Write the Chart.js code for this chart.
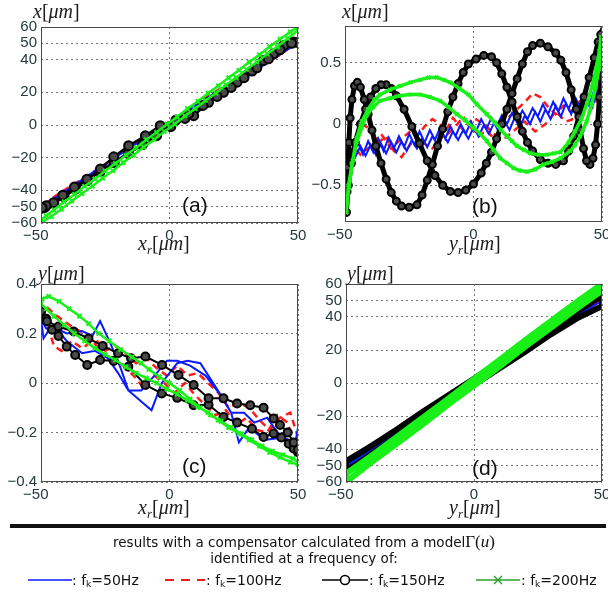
<!DOCTYPE html>
<html>
<head>
<meta charset="utf-8">
<script src="https://cdn.jsdelivr.net/npm/chart.js@4/dist/chart.umd.min.js"></script>
<style>
html, body { margin: 0; padding: 0; background: #fff; width: 608px; height: 593px; overflow: hidden; }
.panel { position: absolute; }
.lbl { position: absolute; font-family: "Liberation Serif", "DejaVu Serif", serif; font-size: 20px; color: #1c1c1c; white-space: nowrap; line-height: 1; }
.lbl sub { font-size: 13px; vertical-align: -4px; }
.tag { position: absolute; font-family: "Liberation Sans", Arial, sans-serif; font-size: 21px; color: #111; line-height: 1; }
.txt { position: absolute; font-family: "DejaVu Sans", sans-serif; font-size: 13.5px; color: #111; white-space: nowrap; line-height: 1; }
.txt sub { font-size: 9px; vertical-align: -2px; }
.sep { position: absolute; left: 10px; top: 524px; width: 596px; height: 4px; background: #111; }
</style>
</head>
<body>

<div class="panel" style="left:0;top:0"><canvas id="pa" width="310" height="250"></canvas></div>
<div class="panel" style="left:304px;top:0"><canvas id="pb" width="310" height="250"></canvas></div>
<div class="panel" style="left:0;top:255px"><canvas id="pc" width="310" height="250"></canvas></div>
<div class="panel" style="left:304px;top:255px"><canvas id="pd" width="310" height="250"></canvas></div>

<div class="lbl" style="left:33px;top:1px"><i>x</i>[<i>μm</i>]</div>
<div class="lbl" style="left:138px;top:233px"><i>x<sub>r</sub></i>[<i>μm</i>]</div>
<div class="lbl" style="left:342px;top:1px"><i>x</i>[<i>μm</i>]</div>
<div class="lbl" style="left:449px;top:233px"><i>y<sub>r</sub></i>[<i>μm</i>]</div>
<div class="lbl" style="left:38px;top:263px"><i>y</i>[<i>μm</i>]</div>
<div class="lbl" style="left:138px;top:497px"><i>x<sub>r</sub></i>[<i>μm</i>]</div>
<div class="lbl" style="left:347px;top:263px"><i>y</i>[<i>μm</i>]</div>
<div class="lbl" style="left:449px;top:497px"><i>y<sub>r</sub></i>[<i>μm</i>]</div>

<div class="tag" style="left:182px;top:194px">(a)</div>
<div class="tag" style="left:472px;top:195px">(b)</div>
<div class="tag" style="left:182px;top:455px">(c)</div>
<div class="tag" style="left:472px;top:457px">(d)</div>

<div class="sep"></div>
<div class="txt" style="left:0;width:608px;text-align:center;top:533px">results with a compensator calculated from a model<span style="font-family:'Liberation Serif',serif;font-size:17px">Γ(<i>u</i>)</span></div>
<div class="txt" style="left:0;width:608px;text-align:center;top:552px">identified at a frequency of:</div>

<svg style="position:absolute;left:0;top:566px" width="608" height="27">
  <line x1="28" y1="14" x2="72" y2="14" stroke="#0a1aff" stroke-width="1.6"/>
  <line x1="165" y1="14" x2="205" y2="14" stroke="#e52222" stroke-width="2" stroke-dasharray="9,7"/>
  <line x1="322" y1="14" x2="368" y2="14" stroke="#000" stroke-width="1.6"/>
  <circle cx="345" cy="14" r="4.5" fill="#fff" stroke="#000" stroke-width="1.6"/>
  <line x1="476" y1="14" x2="520" y2="14" stroke="#2e9e2e" stroke-width="1.6"/>
  <line x1="494" y1="10" x2="502" y2="18" stroke="#2e9e2e" stroke-width="1.4"/>
  <line x1="494" y1="18" x2="502" y2="10" stroke="#2e9e2e" stroke-width="1.4"/>
</svg>
<div class="txt" style="left:72px;top:573px;font-size:14px">: f<sub>k</sub>=50Hz</div>
<div class="txt" style="left:206px;top:573px;font-size:14px">: f<sub>k</sub>=100Hz</div>
<div class="txt" style="left:369px;top:573px;font-size:14px">: f<sub>k</sub>=150Hz</div>
<div class="txt" style="left:521px;top:573px;font-size:14px">: f<sub>k</sub>=200Hz</div>

<script>
// ticks
const xTicks = [-50, 0, 50];
const yTicksA = [-60, -50, -40, -20, 0, 20, 40, 50, 60];
const yTicksB = [-0.5, 0, 0.5];
const yTicksC = [-0.4, -0.2, 0, 0.2, 0.4];
const yTicksD = [-60, -50, -40, -20, 0, 20, 40, 50, 60];

// (a) x vs xr
const aBlue = [[-50,-50.5],[-47,-48.5],[-42,-43.5],[-35,-36],[-25,-26],[-15,-16],[-5,-6],[5,4],[15,14],[25,24],[35,35],[42,42],[47,47.5],[50,50.2],[47,49],[42,44],[35,37],[25,27],[15,17],[5,6.5],[-5,-3.5],[-15,-13.5],[-25,-24],[-35,-34.5],[-42,-42],[-47,-47],[-50,-50.5]];
const aRed = [[-50,-50],[-46,-46.5],[-41,-41.5],[-34,-35.5],[-24,-25.5],[-14,-15.5],[-4,-5.5],[6,4.5],[16,15],[26,25],[36,36],[43,43],[48,48.5],[50,50],[46,48.5],[40,42.5],[33,35.5],[23,25.5],[13,15.5],[3,5],[-7,-5],[-17,-15],[-27,-26],[-37,-36],[-44,-43],[-48,-47.5],[-50,-50]];
const aBlack = [[-50,-51],[-48.5,-50.5],[-45,-48],[-41,-44],[-36.6,-39.3],[-32,-34],[-27,-28.5],[-21.5,-23],[-16,-17.5],[-10.5,-12],[-5,-6.5],[0.5,-1],[6,4],[9.4,5.7],[15.2,13.9],[21,20],[26.3,26.2],[32.1,33],[36.6,39.5],[40.5,43.6],[44.4,48.7],[48.3,50.8],[50,50.5],
  [47.5,50],[43,46],[38.5,40.5],[34,35],[29,29],[24,23],[18.5,17.5],[13,12],[7.5,7],[2.5,3],[-3.6,-0.4],[-9.4,-6.6],[-15.9,-12.7],[-21.7,-19.5],[-26.9,-27],[-32.1,-33.2],[-37,-38],[-41.5,-43],[-45.1,-47.6],[-48,-49.5],[-49.6,-50.6]];
const aGreen = [[-50,-60],[-46,-56],[-42,-51.5],[-38,-46.5],[-34,-42],[-30,-37.5],[-26,-32.5],[-22,-28],[-18,-23],[-14,-18.5],[-10,-13.5],[-6,-9],[-2,-4],[2,0.5],[6,5.5],[10,10],[14,15],[18,19.5],[22,24.5],[26,29],[30,34],[34,38.5],[38,43.5],[42,48],[46,53],[50,58],
  [50,60],[47,57],[43,52.5],[39,48],[35,43],[31,38.5],[27,33.5],[23,29],[19,24],[15,19.5],[11,14.5],[7,10],[3,5],[-1,0.5],[-5,-4.5],[-9,-9],[-13,-14],[-17,-18.5],[-21,-23.5],[-25,-28],[-29,-33],[-33,-37.5],[-37,-42.5],[-41,-47],[-45,-52],[-48,-55.5],[-50,-58]];

// (b) x vs yr
const bBlue = [[-49,-0.17],[-47,-0.27],[-45,-0.15],[-43,-0.25],[-41,-0.14],[-39,-0.23],[-37,-0.12],[-35,-0.22],[-33,-0.11],[-31,-0.2],[-29,-0.1],[-27,-0.19],[-25,-0.08],[-23,-0.17],[-21,-0.06],[-19,-0.15],[-17,-0.05],[-15,-0.13],[-13,-0.03],[-11,-0.12],[-9,-0.02],[-7,-0.1],[-5,0],[-3,-0.08],[-1,0.02],[1,-0.06],[3,0.04],[5,-0.04],[7,0.05],[9,-0.02],[11,0.07],[13,0],[15,0.09],[17,0.02],[19,0.11],[21,0.04],[23,0.13],[25,0.06],[27,0.16],[29,0.08],[31,0.18],[33,0.1],[35,0.21],[37,0.12],[39,0.23],[41,0.14],[43,0.26],[45,0.15],[47,0.28],[49,0.2],
  [48,0.25],[46,0.13],[44,0.22],[42,0.1],[40,0.2],[38,0.08],[36,0.17],[34,0.06],[32,0.15],[30,0.04],[28,0.12],[26,0.02],[24,0.1],[22,0],[20,0.07],[18,-0.03],[16,0.05],[14,-0.05],[12,0.03],[10,-0.07],[8,0.01],[6,-0.08],[4,-0.01],[2,-0.1],[0,-0.03],[-2,-0.12],[-4,-0.05],[-6,-0.13],[-8,-0.06],[-10,-0.15],[-12,-0.08],[-14,-0.17],[-16,-0.1],[-18,-0.19],[-20,-0.11],[-22,-0.2],[-24,-0.13],[-26,-0.22],[-28,-0.14],[-30,-0.23],[-32,-0.15],[-34,-0.24],[-36,-0.16],[-38,-0.25],[-40,-0.17],[-42,-0.26],[-44,-0.18],[-46,-0.27],[-48,-0.19],[-49.5,-0.25]];
const bRed = [[-49,-0.18],[-47,-0.28],[-45,-0.12],[-43,0],[-40,-0.05],[-37,-0.15],[-34,-0.1],[-31,-0.22],[-28,-0.27],[-25,-0.18],[-22,-0.1],[-19,-0.02],[-16,0.04],[-13,0],[-10,-0.08],[-7,-0.02],[-4,0.06],[-1,-0.03],[2,-0.1],[5,-0.05],[8,-0.12],[11,-0.04],[14,0.06],[17,0.12],[20,0.18],[23,0.25],[26,0.22],[29,0.14],[32,0.08],[35,0.15],[38,0.1],[41,0.18],[44,0.22],[47,0.3],[49,0.26],
  [47,0.15],[44,0.08],[40,0.05],[36,0.02],[32,0.1],[28,0],[24,-0.06],[20,0.02],[16,-0.05],[12,-0.12],[8,-0.08],[4,0],[0,0.05],[-4,-0.05],[-8,0.05],[-12,-0.1],[-16,-0.2],[-20,-0.15],[-24,-0.05],[-28,-0.12],[-32,-0.2],[-36,-0.08],[-40,-0.18],[-44,-0.25],[-48,-0.15]];
const bBlack = [[-49.5,-0.72],[-49.2,-0.55],[-48.9,-0.35],[-48.5,-0.15],[-48,0.05],[-47.3,0.2],[-46.3,0.31],[-45.2,0.34],[-44,0.3],[-42.5,0.2],[-41,0.08],[-39.5,-0.05],[-38,-0.18],[-36,-0.32],[-34,-0.45],[-32,-0.56],[-30,-0.63],[-28,-0.67],[-25,-0.68],[-22,-0.66],[-20,-0.58],[-18,-0.46],[-16,-0.33],[-14,-0.18],[-12,-0.04],[-10,0.1],[-8,0.22],[-6,0.33],[-4,0.42],[-2,0.49],[1,0.53],[4,0.56],[7,0.55],[9,0.5],[11,0.41],[13,0.3],[15,0.18],[17,0.06],[19,-0.06],[21,-0.15],[23,-0.22],[26,-0.29],[29,-0.32],[32,-0.33],[35,-0.3],[37,-0.22],[39,-0.1],[41,0.06],[43,0.22],[45,0.38],[47,0.54],[48.5,0.67],[49.5,0.73],
  [49.8,0.65],[49.5,0.45],[49,0.22],[48.3,0],[47.5,-0.17],[46.5,-0.28],[45.3,-0.33],[44,-0.3],[42.8,-0.2],[41.5,-0.05],[40,0.12],[38,0.28],[36,0.42],[34,0.52],[32,0.58],[29,0.63],[26,0.66],[23,0.64],[21,0.59],[19,0.49],[17,0.37],[15,0.25],[13,0.12],[11,0],[9,-0.12],[7,-0.23],[5,-0.32],[3,-0.4],[0,-0.49],[-3,-0.54],[-6,-0.56],[-9,-0.55],[-12,-0.5],[-15,-0.42],[-18,-0.3],[-21,-0.16],[-24,-0.02],[-27,0.12],[-30,0.23],[-32,0.29],[-34,0.32],[-36,0.32],[-38,0.29],[-40,0.22],[-42,0.12],[-44,0],[-46,-0.15],[-47.5,-0.32],[-48.7,-0.5],[-49.5,-0.72]];
const bGreen = [[-49.5,-0.72],[-48.5,-0.52],[-47,-0.3],[-45.5,-0.12],[-43.5,0.02],[-41,0.12],[-38.5,0.2],[-36.4,0.24],[-32.5,0.28],[-28.6,0.31],[-24.5,0.34],[-20.8,0.36],[-17.5,0.38],[-14.3,0.38],[-11.5,0.36],[-9.1,0.34],[-5.5,0.29],[-2,0.24],[1.3,0.16],[5.2,0.08],[8.4,0.01],[10.7,-0.05],[13,-0.1],[15,-0.14],[16.9,-0.18],[19.5,-0.21],[22.1,-0.24],[25.3,-0.25],[28.6,-0.25],[31.2,-0.24],[33.8,-0.23],[37,-0.15],[39.5,-0.06],[42,0.04],[44.2,0.17],[46,0.3],[47.7,0.45],[49,0.6],[49.6,0.71],
  [49.8,0.62],[48.8,0.45],[47.5,0.3],[46,0.16],[44,0.02],[41.5,-0.1],[39.5,-0.17],[37.7,-0.22],[33.8,-0.28],[30.5,-0.31],[27.3,-0.33],[24,-0.37],[20.8,-0.39],[18,-0.38],[15.6,-0.36],[13,-0.32],[10.4,-0.28],[7.8,-0.21],[5.2,-0.14],[2.6,-0.08],[0,-0.03],[-3.2,0.03],[-6.5,0.08],[-9.8,0.14],[-13,0.19],[-17,0.22],[-20.8,0.24],[-24.7,0.24],[-28.6,0.23],[-32.5,0.21],[-36.4,0.19],[-39,0.14],[-41.6,0.07],[-43.5,-0.03],[-45.5,-0.15],[-47.2,-0.32],[-48.6,-0.5],[-49.5,-0.72]];

// (c) y vs xr
const cBlue = [[-50,0.26],[-49,0.18],[-46,0.23],[-40,0.2],[-34,0.21],[-30,0.19],[-27,0.25],[-23,0.16],[-19,0.06],[-16,-0.03],[-7,-0.11],[-3,0],[3,0.08],[7,0.09],[12,0.08],[17,0],[20,-0.05],[24,-0.12],[27,-0.24],[31,-0.18],[37,-0.23],[44,-0.22],[49,-0.24],[50,-0.18],
  [50,-0.22],[47,-0.24],[42,-0.2],[38,-0.14],[33,-0.16],[29,-0.12],[24,-0.12],[20,-0.05],[14,0.03],[8,0.07],[3,0.09],[-1,0.09],[-5,0.04],[-11,-0.03],[-16,-0.03],[-20,0.04],[-24,0.1],[-29,0.13],[-34,0.12],[-40,0.17],[-44,0.22],[-48,0.22],[-50,0.26]];
const cRed = [[-50,0.27],[-47,0.22],[-45,0.15],[-42,0.13],[-38,0.17],[-34,0.14],[-30,0.17],[-26,0.12],[-22,0.09],[-18,0.07],[-14,0.03],[-10,-0.02],[-6,0.03],[-2,0],[2,-0.04],[6,0],[10,-0.05],[14,-0.09],[18,-0.13],[22,-0.11],[26,-0.17],[30,-0.14],[34,-0.19],[38,-0.2],[42,-0.13],[46,-0.16],[49,-0.27],
  [50,-0.22],[47,-0.12],[43,-0.14],[39,-0.19],[35,-0.15],[31,-0.1],[27,-0.08],[23,-0.1],[19,-0.04],[15,0],[11,0.04],[7,0.03],[3,0.07],[-1,0.03],[-5,0.06],[-9,0.1],[-13,0.08],[-17,0.12],[-21,0.15],[-25,0.13],[-29,0.18],[-33,0.2],[-37,0.22],[-41,0.25],[-45,0.28],[-48,0.31],[-50,0.27]];
const cBlack = [[-50,0.29],[-48,0.26],[-45.7,0.215],[-43.2,0.19],[-40,0.147],[-36.7,0.113],[-32,0.073],[-27,0.093],[-21.7,0.089],[-16,0.066],[-9.4,-0.008],[-3,-0.042],[3,-0.06],[9.4,-0.09],[15.2,-0.088],[21,-0.137],[26.3,-0.16],[32.1,-0.185],[36.6,-0.218],[40.5,-0.204],[43.5,-0.22],[46.4,-0.245],[48.3,-0.265],[50,-0.28],
  [50,-0.27],[48.3,-0.24],[46,-0.2],[43,-0.17],[40.5,-0.143],[36.6,-0.1],[31.4,-0.09],[26.3,-0.083],[21,-0.062],[15.2,-0.062],[9.4,-0.008],[3.5,0.032],[-2.9,0.073],[-9.4,0.107],[-15,0.1],[-20,0.12],[-26,0.15],[-31.5,0.18],[-37.3,0.208],[-43.2,0.228],[-47.7,0.25],[-50,0.29]];
const cGreen = [[-49.6,0.34],[-47,0.35],[-43,0.33],[-39,0.3],[-35,0.27],[-31.5,0.24],[-27.5,0.2],[-23.5,0.17],[-19,0.135],[-14.5,0.105],[-11,0.08],[-8,0.055],[-4,0.025],[0,0],[4,-0.03],[8,-0.065],[12,-0.1],[16,-0.13],[20,-0.155],[24,-0.18],[28,-0.205],[32,-0.23],[36,-0.255],[40,-0.275],[44,-0.29],[48,-0.305],[50,-0.32],
  [50,-0.33],[47,-0.32],[43,-0.3],[39,-0.28],[35,-0.255],[31,-0.23],[27,-0.205],[23,-0.18],[19,-0.15],[15,-0.12],[11,-0.095],[7,-0.07],[3,-0.045],[-1,-0.025],[-5,0],[-9,0.02],[-13,0.04],[-17,0.065],[-21,0.093],[-25,0.115],[-29,0.14],[-33,0.17],[-37,0.2],[-41,0.235],[-45,0.27],[-48,0.3],[-50,0.32]];

// (d) y vs yr
const dBlue = [[-50,-51],[-30,-30.5],[-10,-10],[10,10],[30,30.5],[50,50],[30,31.5],[10,11.5],[-10,-8.5],[-30,-29],[-50,-50]];
const dRed = [[-50,-51.5],[-30,-29],[-10,-10.5],[10,10.5],[30,30],[50,50.5],[30,31],[10,11],[-10,-9],[-30,-28],[-50,-50.5]];
const dBlack = [[-50,-53.5],[-40,-43],[-30,-32.5],[-20,-22],[-10,-11.5],[0,-1],[10,9],[20,19],[30,29.5],[40,39],[50,46.5],
  [50,53],[40,43],[30,33],[20,23],[10,12.5],[0,2.5],[-10,-7.5],[-20,-17.5],[-30,-28],[-40,-38],[-50,-47.5],[-50,-53.5]];
const dGreen = [[-50,-60],[-40,-48],[-30,-36.5],[-20,-25],[-10,-13],[0,-1.5],[10,10],[20,22],[30,33.5],[40,45],[50,56],
  [50,60],[40,49],[30,37.5],[20,26],[10,14],[0,2.5],[-10,-9.5],[-20,-21],[-30,-32.5],[-40,-44],[-50,-55],[-50,-60]];

const tickColor = '#253a3a';
const tickFont = { family: 'Liberation Sans, Arial, sans-serif', size: 15 };

function toXY(pts) {
    return pts.map(p => ({ x: p[0], y: p[1] }));
}

function fmt(v) {
    return v < 0 ? '\u2212' + Math.abs(v) : String(v);
}

// negative x labels sit a little left of their tick, as in the original
function fmtX(v) {
    return v < 0 ? '\u2212' + Math.abs(v) + '\u2002\u2009' : String(v);
}

function blueSet(pts) {
    return { data: toXY(pts), showLine: true, borderColor: '#0a1aff', borderWidth: 2, pointRadius: 0, order: 3 };
}
function redSet(pts) {
    return { data: toXY(pts), showLine: true, borderColor: '#ff1a1a', borderWidth: 2.5, borderDash: [7, 5], pointRadius: 0, order: 4 };
}
function blackSet(pts, w, r) {
    return { data: toXY(pts), showLine: true, borderColor: '#000', borderWidth: w, pointStyle: 'circle', pointRadius: r,
        pointBackgroundColor: '#4a4a4a', pointBorderColor: '#000', pointBorderWidth: 2, order: 2 };
}
function greenSet(pts, w, r) {
    return { data: toXY(pts), showLine: true, borderColor: '#18f018', borderWidth: w, pointStyle: 'crossRot', pointRadius: r,
        pointBorderColor: '#18f018', pointBorderWidth: 2, order: 1 };
}

// box round the plot area
const framePlugin = {
    id: 'frame',
    afterDraw(chart) {
        const a = chart.chartArea;
        const ctx = chart.ctx;
        ctx.save();
        ctx.strokeStyle = '#4a4a4a';
        ctx.lineWidth = 1;
        ctx.strokeRect(a.left + 0.5, a.top + 0.5, a.right - a.left - 1, a.bottom - a.top - 1);
        ctx.restore();
    }
};

function makePanel(id, datasets, yMin, yMax, yTicks, padTop, yWidth, xHeight) {
    return new Chart(document.getElementById(id), {
        type: 'scatter',
        data: { datasets: datasets },
        options: {
            responsive: false,
            animation: false,
            layout: { padding: { top: padTop, right: 12, left: 0, bottom: 0 } },
            plugins: { legend: { display: false }, tooltip: { enabled: false } },
            scales: {
                x: {
                    type: 'linear', min: -50, max: 50,
                    afterBuildTicks: s => { s.ticks = xTicks.map(v => ({ value: v })); },
                    afterFit: s => { s.height = xHeight; s.paddingLeft = 0; s.paddingRight = 0; },
                    grid: { color: '#777', drawTicks: false },
                    border: { display: false, dash: [2, 3] },
                    ticks: { autoSkip: false, maxRotation: 0, padding: 4, color: tickColor, font: tickFont, callback: fmtX }
                },
                y: {
                    type: 'linear', min: yMin, max: yMax,
                    afterBuildTicks: s => { s.ticks = yTicks.map(v => ({ value: v })); },
                    afterFit: s => { s.width = yWidth; s.paddingTop = 0; s.paddingBottom = 0; },
                    grid: { color: '#777', drawTicks: false },
                    border: { display: false, dash: [2, 3] },
                    ticks: { autoSkip: false, padding: 4, color: tickColor, font: tickFont, callback: fmt }
                }
            }
        },
        plugins: [framePlugin]
    });
}

makePanel('pa', [blueSet(aBlue), redSet(aRed), blackSet(aBlack, 2.5, 4.5), greenSet(aGreen, 2.5, 3)], -60, 60, yTicksA, 27, 41, 27);
makePanel('pb', [blueSet(bBlue), redSet(bRed), blackSet(bBlack, 5, 3.5), greenSet(bGreen, 3.5, 2.5)], -0.8, 0.8, yTicksB, 26, 41, 28);
makePanel('pc', [blueSet(cBlue), redSet(cRed), blackSet(cBlack, 2, 4), greenSet(cGreen, 2.5, 3)], -0.4, 0.4, yTicksC, 29, 41, 23);
makePanel('pd', [blueSet(dBlue), redSet(dRed), blackSet(dBlack, 6, 0), greenSet(dGreen, 6, 0)], -60, 60, yTicksD, 29, 42, 23);
</script>
</body>
</html>
